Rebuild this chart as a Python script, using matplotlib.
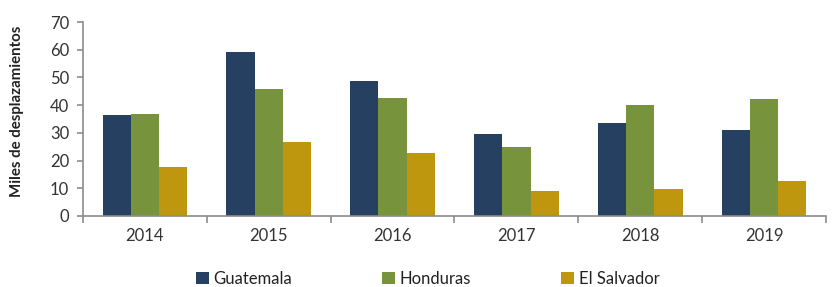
import numpy as np
import matplotlib.pyplot as plt
from matplotlib.ticker import FixedLocator

years = ['2014', '2015', '2016', '2017', '2018', '2019']
guatemala = [36.6, 59.3, 48.7, 29.5, 33.5, 31.2]
honduras = [36.8, 45.8, 42.5, 25.0, 40.2, 42.4]
el_salvador = [17.7, 26.6, 22.7, 9.1, 9.8, 12.6]

series = [('Guatemala', guatemala, '#264061'),
          ('Honduras', honduras, '#77933C'),
          ('El Salvador', el_salvador, '#BE970F')]

plt.rcParams['font.family'] = ['Lato', 'DejaVu Sans']

fig = plt.figure(figsize=(8.33, 2.87), dpi=100)
ax = fig.add_axes([0.0996, 0.2474, 0.892, 0.6756])

x = np.arange(len(years))
w = 0.228
for i, (name, vals, col) in enumerate(series):
    ax.bar(x + (i - 1) * w, vals, w, color=col, label=name, zorder=2)

ax.set_xlim(-0.5, len(years) - 0.5)
ax.set_ylim(0, 70)
ax.set_yticks(range(0, 71, 10))
ax.set_xticks(x)
ax.set_xticklabels(years)
ax.xaxis.set_minor_locator(FixedLocator(np.arange(-0.5, len(years), 1)))

for s in ['top', 'right']:
    ax.spines[s].set_visible(False)
for s in ['left', 'bottom']:
    ax.spines[s].set_color('#8c8c8c')
    ax.spines[s].set_linewidth(1.2)

ax.tick_params(axis='x', which='major', length=0, labelsize=12, colors='#333333', pad=9)
ax.tick_params(axis='x', which='minor', length=5, color='#8c8c8c', width=1.2)
ax.tick_params(axis='y', length=4, color='#8c8c8c', width=1.2, labelsize=12,
               labelcolor='#333333', pad=6)

ax.set_ylabel('Miles de desplazamientos', fontsize=10.8, fontweight='bold',
              color='#222222', labelpad=4)
ax.yaxis.set_label_coords(-0.08, 0.54)

ax.legend(loc='upper center', bbox_to_anchor=(0.464, -0.205), ncol=3, frameon=False,
          fontsize=12, handlelength=0.75, handleheight=0.75, handletextpad=0.3,
          columnspacing=5.4, labelcolor='#222222')

fig.savefig('out.png', dpi=100)
